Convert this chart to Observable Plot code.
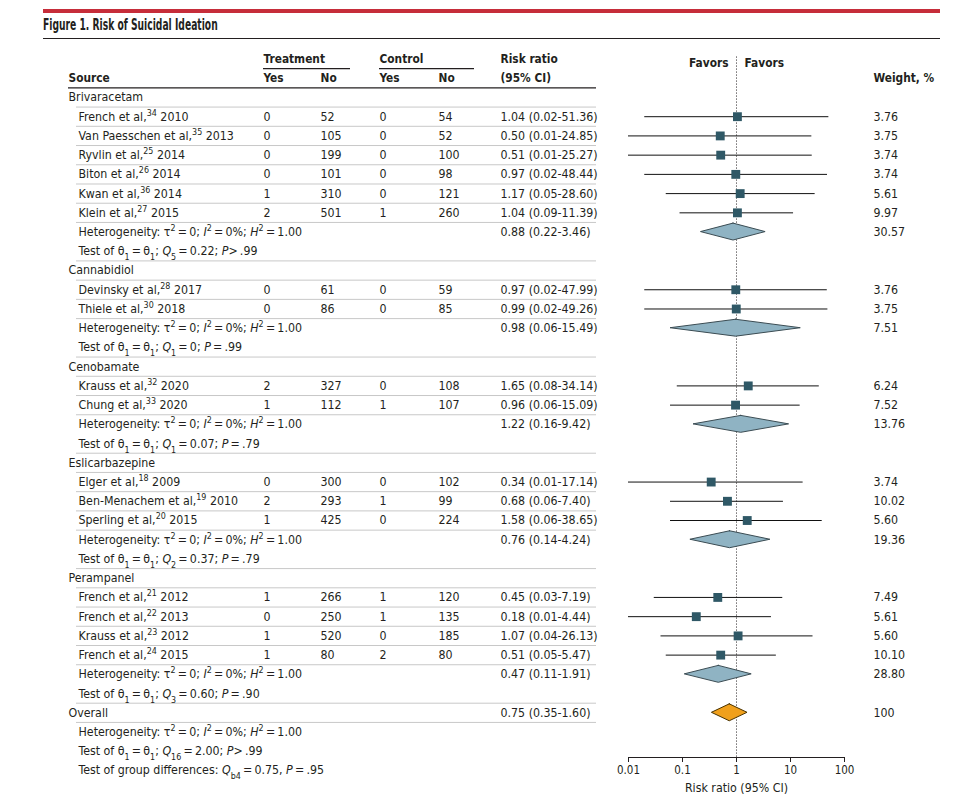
<!DOCTYPE html>
<html><head><meta charset="utf-8">
<script src="https://cdn.jsdelivr.net/npm/d3@7"></script>
<script src="https://cdn.jsdelivr.net/npm/@observablehq/plot@0.6"></script>
<style>
body{margin:0;background:#fff;}
#page{position:relative;width:978px;height:796px;font-family:"Liberation Sans Narrow","DejaVu Sans Condensed",sans-serif;color:#231f20;}
#bar{position:absolute;left:43px;top:9px;width:897px;height:4px;background:#c62d3a;}
#title{position:absolute;left:43px;top:16px;font-weight:bold;font-size:15px;line-height:18px;white-space:nowrap;transform:scaleX(0.68);transform-origin:0 0;}
#rule{position:absolute;left:43px;top:38px;width:897px;height:1px;background:#231f20;}
#chart{position:absolute;left:0;top:42px;display:flex;}
</style></head>
<body>
<div id="page">
  <div id="bar"></div>
  <div id="title">Figure 1. Risk of Suicidal Ideation</div>
  <div id="rule"></div>
  <div id="chart"></div>
</div>
<script>
// ---------- data ----------
const groupNames = ["Brivaracetam", "Cannabidiol", "Cenobamate", "Eslicarbazepine", "Perampanel"];
const groupRR = [0.88, 0.98, 1.22, 0.76, 0.47];
const groupLo = [0.22, 0.06, 0.16, 0.14, 0.11];
const groupHi = [3.46, 15.49, 9.42, 4.24, 1.91];
const groupWeight = [30.57, 7.51, 13.76, 19.36, 28.80];
const groupQdf = ["5", "1", "1", "2", "3"];
const groupQ = ["0.22", "0", "0.07", "0.37", "0.60"];
const groupP = [">\u2009.99", "\u2009=\u2009.99", "\u2009=\u2009.79", "\u2009=\u2009.79", "\u2009=\u2009.90"];

const studyNames = ["French et al", "Van Paesschen et al", "Ryvlin et al", "Biton et al", "Kwan et al", "Klein et al",
  "Devinsky et al", "Thiele et al",
  "Krauss et al", "Chung et al",
  "Elger et al", "Ben-Menachem et al", "Sperling et al",
  "French et al", "French et al", "Krauss et al", "French et al"];
const studyRefs = ["34", "35", "25", "26", "36", "27", "28", "30", "32", "33", "18", "19", "20", "21", "22", "23", "24"];
const studyYears = ["2010", "2013", "2014", "2014", "2014", "2015", "2017", "2018", "2020", "2020", "2009", "2010", "2015", "2012", "2013", "2012", "2015"];
const studyGroup = [0, 0, 0, 0, 0, 0, 1, 1, 2, 2, 3, 3, 3, 4, 4, 4, 4];
const treatYes = [0, 0, 0, 0, 1, 2, 0, 0, 2, 1, 0, 2, 1, 1, 0, 1, 1];
const treatNo = [52, 105, 199, 101, 310, 501, 61, 86, 327, 112, 300, 293, 425, 266, 250, 520, 80];
const ctrlYes = [0, 0, 0, 0, 0, 1, 0, 0, 0, 1, 0, 1, 0, 1, 1, 0, 2];
const ctrlNo = [54, 52, 100, 98, 121, 260, 59, 85, 108, 107, 102, 99, 224, 120, 135, 185, 80];
const studyRR = [1.04, 0.50, 0.51, 0.97, 1.17, 1.04, 0.97, 0.99, 1.65, 0.96, 0.34, 0.68, 1.58, 0.45, 0.18, 1.07, 0.51];
const studyLo = [0.02, 0.01, 0.01, 0.02, 0.05, 0.09, 0.02, 0.02, 0.08, 0.06, 0.01, 0.06, 0.06, 0.03, 0.01, 0.04, 0.05];
const studyHi = [51.36, 24.85, 25.27, 48.44, 28.60, 11.39, 47.99, 49.26, 34.14, 15.09, 17.14, 7.40, 38.65, 7.19, 4.44, 26.13, 5.47];
const studyWeight = [3.76, 3.75, 3.74, 3.74, 5.61, 9.97, 3.76, 3.75, 6.24, 7.52, 3.74, 10.02, 5.60, 7.49, 5.61, 5.60, 10.10];

const overallRR = 0.75, overallLo = 0.35, overallHi = 1.60, overallWeight = "100";
const overallQdf = "16", overallQ = "2.00", overallP = ">\u2009.99";
const groupDiffQ = "0.75", groupDiffP = "\u2009=\u2009.95";

const xTicks = [0.01, 0.1, 1, 10, 100];

// ---------- layout ----------
const FONT = '"Liberation Sans Narrow","DejaVu Sans Condensed",sans-serif';
const FS = "12.3px";
const H = 754, Y0 = 16.5, Y1 = 728;          // y range for rows -2 .. 35
const AXIS_ROW = -2 + (715 - Y0) / (Y1 - Y0) * 37;
const COL = {group: 68, study: 78, tYes: 263, tNo: 320, cYes: 379, cNo: 438, rr: 500};
const TEXT = "#231f20";
const eq = "\u2009=\u2009";
const het = "Heterogeneity: τ^{2}" + eq + "0; *I*^{2}" + eq + "0%; *H*^{2}" + eq + "1.00";
const f2 = v => v.toFixed(2);
const ci = (m, l, h) => `${f2(m)} (${f2(l)}-${f2(h)})`;

// ---------- build rows ----------
const rows = [];
let r = 0;
groupNames.forEach((g, gi) => {
  rows.push({row: r++, kind: "group", gi});
  studyGroup.forEach((sg, i) => { if (sg === gi) rows.push({row: r++, kind: "study", i}); });
  rows.push({row: r++, kind: "het", gi});
  rows.push({row: r++, kind: "test", gi});
});
rows.push({row: r++, kind: "overall"});
rows.push({row: r++, kind: "ohet"});
rows.push({row: r++, kind: "otest"});
rows.push({row: r++, kind: "ogroup"});

const cells = [];
rows.forEach(d => {
  const y = d.row;
  if (d.kind === "group") cells.push({x: COL.group, y, t: groupNames[d.gi]});
  if (d.kind === "study") {
    const i = d.i;
    cells.push({x: COL.study, y, t: `${studyNames[i]},^{${studyRefs[i]}} ${studyYears[i]}`});
    cells.push({x: COL.tYes, y, t: String(treatYes[i])});
    cells.push({x: COL.tNo, y, t: String(treatNo[i])});
    cells.push({x: COL.cYes, y, t: String(ctrlYes[i])});
    cells.push({x: COL.cNo, y, t: String(ctrlNo[i])});
    cells.push({x: COL.rr, y, t: ci(studyRR[i], studyLo[i], studyHi[i])});
  }
  if (d.kind === "het") {
    cells.push({x: COL.study, y, t: het});
    cells.push({x: COL.rr, y, t: ci(groupRR[d.gi], groupLo[d.gi], groupHi[d.gi])});
  }
  if (d.kind === "test") {
    cells.push({x: COL.study, y, t: `Test of θ_{1}${eq}θ_{1}; *Q*_{${groupQdf[d.gi]}}${eq}${groupQ[d.gi]}; *P*${groupP[d.gi]}`});
  }
  if (d.kind === "overall") {
    cells.push({x: COL.group, y, t: "Overall"});
    cells.push({x: COL.rr, y, t: ci(overallRR, overallLo, overallHi)});
  }
  if (d.kind === "ohet") cells.push({x: COL.study, y, t: het});
  if (d.kind === "otest") cells.push({x: COL.study, y, t: `Test of θ_{1}${eq}θ_{1}; *Q*_{${overallQdf}}${eq}${overallQ}; *P*${overallP}`});
  if (d.kind === "ogroup") cells.push({x: COL.study, y, t: `Test of group differences: *Q*_{b4}${eq}${groupDiffQ}, *P*${groupDiffP}`});
});

const headerCells = [
  {x: COL.tYes, y: -2, t: "Treatment"}, {x: COL.cYes, y: -2, t: "Control"}, {x: COL.rr, y: -2, t: "Risk ratio"},
  {x: COL.group, y: -1, t: "Source"}, {x: COL.tYes, y: -1, t: "Yes"}, {x: COL.tNo, y: -1, t: "No"},
  {x: COL.cYes, y: -1, t: "Yes"}, {x: COL.cNo, y: -1, t: "No"}, {x: COL.rr, y: -1, t: "(95% CI)"}
];
const sepRows = rows.filter(d => d.row > 0 && !["test", "otest", "ogroup"].includes(d.kind)).map(d => d.row);
const underlines = [{x1: 263, x2: 350}, {x1: 379, x2: 474}];

// forest data
const studyRows = rows.filter(d => d.kind === "study").map(d => ({row: d.row, rr: studyRR[d.i], lo: studyLo[d.i], hi: studyHi[d.i], w: f2(studyWeight[d.i])}));
const groupRows = rows.filter(d => d.kind === "het").map(d => ({row: d.row, rr: groupRR[d.gi], lo: groupLo[d.gi], hi: groupHi[d.gi], w: f2(groupWeight[d.gi])}));
const overallRow = rows.filter(d => d.kind === "overall").map(d => ({row: d.row, rr: overallRR, lo: overallLo, hi: overallHi, w: overallWeight}));
const HALF = 0.44;
const diamond = (arr) => arr.flatMap((d, k) => [
  {k, y: d.row - HALF, x1: d.rr, x2: d.rr},
  {k, y: d.row, x1: d.lo, x2: d.hi},
  {k, y: d.row + HALF, x1: d.rr, x2: d.rr}
]);

// ---------- rich text (sup/sub/italic) ----------
const NS = "http://www.w3.org/2000/svg";
function rich(svg) {
  svg.querySelectorAll("text").forEach(el => {
    const s = el.textContent;
    if (!/[\^_*]/.test(s)) return;
    while (el.firstChild) el.removeChild(el.firstChild);
    const re = /\^\{([^}]*)\}|_\{([^}]*)\}|\*([^*]*)\*|([^\^_*]+)/g;
    let m;
    while ((m = re.exec(s))) {
      const t = document.createElementNS(NS, "tspan");
      if (m[1] != null) { t.textContent = m[1]; t.setAttribute("baseline-shift", "super"); t.setAttribute("style", "font-size:0.72em"); }
      else if (m[2] != null) { t.textContent = m[2]; t.setAttribute("baseline-shift", "sub"); t.setAttribute("style", "font-size:0.72em"); }
      else if (m[3] != null) { t.textContent = m[3]; t.setAttribute("font-style", "italic"); }
      else t.textContent = m[4];
      el.appendChild(t);
    }
  });
}

// ---------- table ----------
const table = Plot.plot({
  width: 600, height: H,
  marginTop: 0, marginBottom: 0, marginLeft: 0, marginRight: 0,
  x: {domain: [0, 600], range: [0, 600], axis: null},
  y: {domain: [-2, 35], range: [Y0, Y1], axis: null},
  style: {fontFamily: FONT, fontSize: FS, color: TEXT, background: "transparent", overflow: "visible"},
  marks: [
    Plot.ruleY(sepRows, {y: d => d - 0.5, x1: 76, x2: 596, stroke: "#c8c8c8", strokeWidth: 1}),
    Plot.ruleY([-0.5], {x1: 68, x2: 596, stroke: TEXT, strokeWidth: 1.2}),
    Plot.ruleY(underlines, {y: -1.5, x1: "x1", x2: "x2", stroke: TEXT, strokeWidth: 1.2}),
    Plot.text(headerCells, {x: "x", y: "y", text: "t", textAnchor: "start", fontWeight: "bold", fontSize: 11.8, fill: TEXT}),
    Plot.text(cells, {x: "x", y: "y", text: "t", textAnchor: "start", fill: TEXT})
  ]
});
rich(table);

// ---------- forest ----------
const forest = Plot.plot({
  width: 378, height: H,
  marginLeft: 28, marginRight: 134, marginTop: 15, marginBottom: H - 715,
  x: {type: "log", domain: [0.01, 100]},
  y: {domain: [-2, 35], range: [Y0, Y1], axis: null},
  style: {fontFamily: FONT, fontSize: FS, color: TEXT, background: "transparent", overflow: "visible"},
  marks: [
    Plot.ruleX([1], {y1: -2.1, y2: AXIS_ROW, stroke: TEXT, strokeDasharray: "1,2", strokeWidth: 1}),
    Plot.ruleY(studyRows, {y: "row", x1: "lo", x2: "hi", stroke: "#111", strokeWidth: 1}),
    Plot.dot(studyRows, {x: "rr", y: "row", symbol: "square", r: 5, fill: "#2f5866", stroke: "none"}),
    Plot.areaX(diamond(groupRows), {y: "y", x1: "x1", x2: "x2", z: "k", curve: "linear", fill: "#8fb3c3", stroke: "#3b4c53", strokeWidth: 1}),
    Plot.areaX(diamond(overallRow), {y: "y", x1: "x1", x2: "x2", z: "k", curve: "linear", fill: "#f0a01c", stroke: "#4a3300", strokeWidth: 1}),
    Plot.ruleY([AXIS_ROW], {x1: xTicks[0], x2: xTicks[xTicks.length - 1], stroke: TEXT, strokeWidth: 1.2}),
    Plot.axisX({ticks: xTicks, tickFormat: d => String(d), tickSize: 5, tickPadding: 3, label: null, fontSize: 11.5}),
    Plot.text(["Risk ratio (95% CI)"], {frameAnchor: "bottom", lineAnchor: "middle", dy: 31, fill: TEXT}),
    Plot.text(["Favors"], {x: 1, y: -2, dy: 4, dx: -8, textAnchor: "end", fontWeight: "bold", fontSize: 11.8, fill: TEXT}),
    Plot.text(["Favors"], {x: 1, y: -2, dy: 4, dx: 8, textAnchor: "start", fontWeight: "bold", fontSize: 11.8, fill: TEXT}),
    Plot.text(["Weight, %"], {y: -1, frameAnchor: "right", dx: 29, textAnchor: "start", fontWeight: "bold", fontSize: 11.8, fill: TEXT}),
    Plot.text([...studyRows, ...groupRows, ...overallRow], {y: "row", text: "w", frameAnchor: "right", dx: 29, textAnchor: "start", fill: TEXT})
  ]
});

const chart = document.getElementById("chart");
chart.appendChild(table);
chart.appendChild(forest);
</script>
</body></html>
